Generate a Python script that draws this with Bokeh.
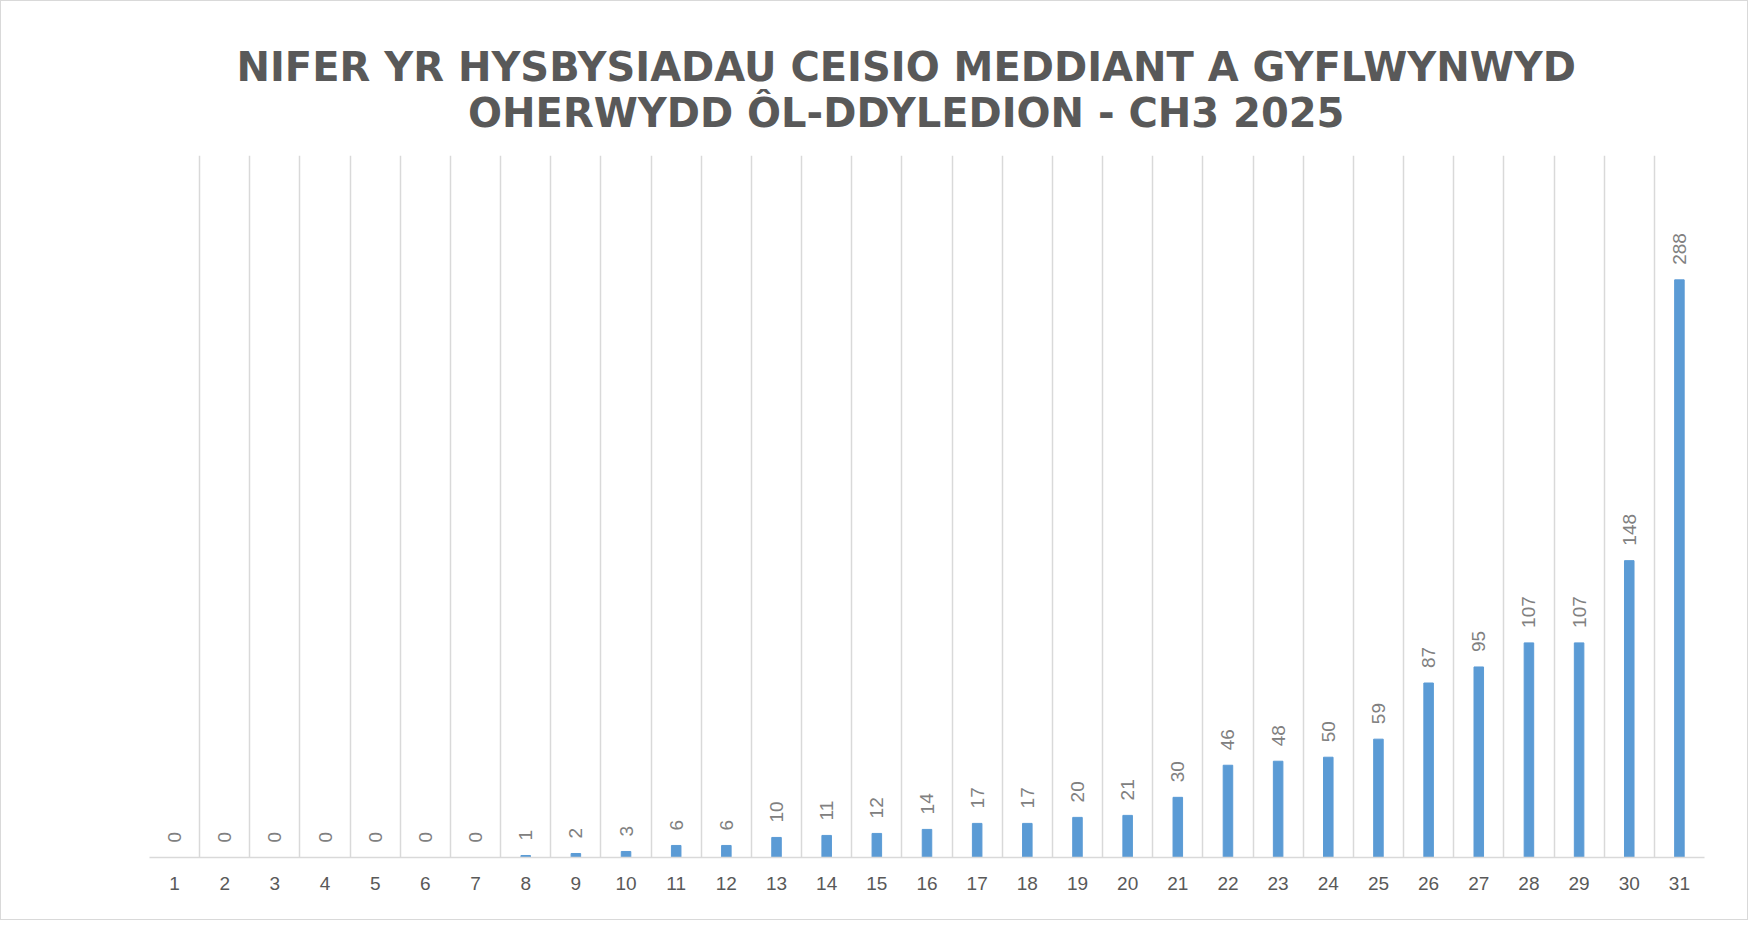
from bokeh.plotting import figure
from bokeh.models import ColumnDataSource, FixedTicker, Title, Range1d
from bokeh.core.properties import value
from bokeh.embed import file_html
from bokeh.resources import INLINE

title_lines = ["NIFER YR HYSBYSIADAU CEISIO MEDDIANT A GYFLWYNWYD",
               "OHERWYDD ÔL-DDYLEDION - CH3 2025"]
days = [str(d) for d in range(1, 32)]
counts = [0, 0, 0, 0, 0, 0, 0, 1, 2, 3, 6, 6, 10, 11, 12, 14, 17, 17, 20, 21,
          30, 46, 48, 50, 59, 87, 95, 107, 107, 148, 288]

W, H = 1748, 920
xs = list(range(1, len(days) + 1))
src = ColumnDataSource(dict(x=xs, y=counts, lab=[str(c) for c in counts]))

p = figure(width=W, height=H, output_backend="svg", toolbar_location=None,
           x_range=Range1d(0.5, len(days) + 0.5), y_range=Range1d(0, 350),
           min_border_left=148, min_border_right=W - 1703, min_border_top=154,
           min_border_bottom=H - 856)
p.styles = {"border": "1px solid #d9d9d9"}
p.outline_line_color = None
p.background_fill_color = "white"
p.border_fill_color = "white"

p.vbar(x="x", top="y", width=0.19, source=src, color="#5b9bd5")
p.text(x="x", y="y", text="lab", source=src, angle=1.5708, y_offset=-15,
       text_align="left", text_baseline="middle",
       text_font=value("Liberation Sans"), text_font_size="19px",
       text_color="#808080")

p.yaxis.visible = False
p.ygrid.grid_line_color = None
p.xgrid.ticker = FixedTicker(ticks=[i + 0.5 for i in range(0, len(days) + 1)])
p.xgrid.grid_line_color = "#d9d9d9"
p.xgrid.grid_line_width = 1.5

ax = p.xaxis[0]
ax.ticker = FixedTicker(ticks=xs)
ax.major_label_overrides = {x: d for x, d in zip(xs, days)}
ax.major_tick_line_color = None
ax.minor_tick_line_color = None
ax.axis_line_color = "#d9d9d9"
ax.axis_line_width = 1.5
ax.major_label_text_font = "Liberation Sans"
ax.major_label_text_font_size = "19px"
ax.major_label_text_color = "#595959"
ax.major_label_standoff = 13

p.add_layout(Title(text="\n".join(title_lines), align="left", offset=87,
                   text_align="center",
                   text_font="DejaVu Sans", text_font_size="40px",
                   text_font_style="bold", text_color="#595959",
                   text_line_height=1.0, standoff=39), "above")

open("out.html", "w").write(file_html(p, INLINE))
